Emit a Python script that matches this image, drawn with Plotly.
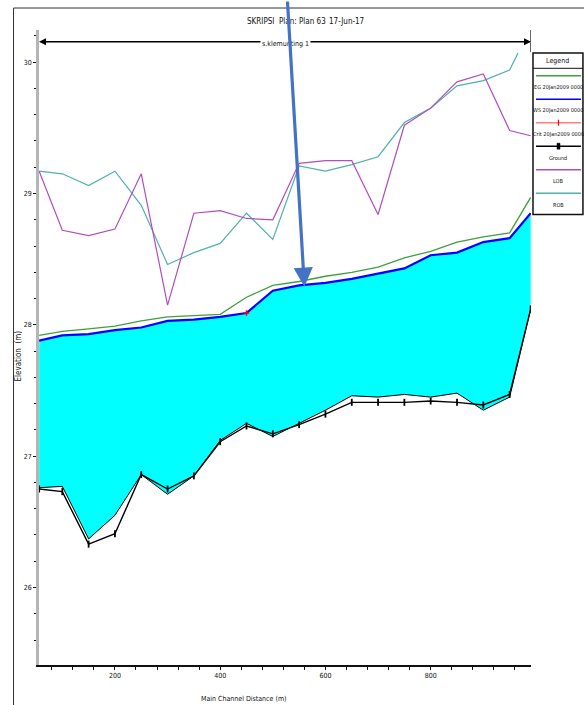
import plotly.graph_objects as go

# Stations along the main channel (m)
dist = [56, 100, 150, 200, 250, 300, 350, 400, 450, 500,
        550, 600, 650, 700, 750, 800, 850, 900, 950, 990]

# Energy grade line, water surface, channel invert (bottom of flow area), ground
eg = [27.92, 27.95, 27.97, 27.99, 28.03, 28.06, 28.07, 28.08, 28.21, 28.30,
      28.33, 28.37, 28.40, 28.44, 28.51, 28.56, 28.63, 28.67, 28.70, 28.97]
ws = [27.88, 27.92, 27.93, 27.96, 27.98, 28.03, 28.04, 28.06, 28.09, 28.26,
      28.30, 28.32, 28.35, 28.39, 28.43, 28.53, 28.55, 28.63, 28.66, 28.85]
invert = [26.76, 26.77, 26.37, 26.55, 26.86, 26.71, 26.85, 27.12, 27.25, 27.15,
          27.25, 27.35, 27.46, 27.45, 27.47, 27.45, 27.48, 27.35, 27.45, 28.12]
ground = [26.75, 26.73, 26.33, 26.41, 26.86, 26.75, 26.85, 27.11, 27.23, 27.17,
          27.24, 27.32, 27.41, 27.41, 27.41, 27.42, 27.41, 27.39, 27.47, 28.12]

# Left and right overbank elevations
lob = [29.17, 28.72, 28.68, 28.73, 29.15, 28.15, 28.85, 28.87, 28.81, 28.80,
       29.23, 29.25, 29.25, 28.84, 29.52, 29.65, 29.85, 29.91, 29.48, 29.44]
rob_dist = [56, 100, 150, 200, 250, 300, 350, 400, 450, 500,
            550, 600, 650, 700, 750, 800, 850, 900, 950, 966]
rob = [29.17, 29.15, 29.06, 29.17, 28.91, 28.46, 28.55, 28.62, 28.85, 28.65,
       29.21, 29.17, 29.22, 29.28, 29.54, 29.65, 29.82, 29.86, 29.94, 30.07]

# Critical depth water surface
crit_dist = [450]
crit = [28.09]

x_ticks = [200, 400, 600, 800]
y_ticks = [26, 27, 28, 29, 30]

profile = "20Jan2009 0000"
legend_items = [
    ("EG " + profile, "#3f9f3f", None),
    ("WS " + profile, "#0000ff", None),
    ("Crit " + profile, "#ff7f7f", "cross"),
    ("Ground", "#000000", "bar"),
    ("LOB", "#b04ec0", None),
    ("ROB", "#4fb0b0", None),
]

# Page geometry
W, H = 584, 705
L, R, T, B = 38.5, 53, 30, 40
X_RANGE = [55.7, 990.6]
Y_RANGE = [25.41, 30.245]
FONT = "DejaVu Sans Condensed, Liberation Sans, sans-serif"


def px(xp):
    return (xp - L) / (W - L - R)


def py(yp):
    return (H - B - yp) / (H - T - B)


def label(text, x, y, size, xanchor="center", **extra):
    return dict(text=text, xref="paper", yref="paper", x=x, y=y,
                showarrow=False, xanchor=xanchor, yanchor="middle",
                font=dict(family=FONT, size=size, color="#111111"), **extra)


fig = go.Figure()

# Flow area: cyan between the channel invert and the water surface
fig.add_trace(go.Scatter(x=dist, y=invert, mode="lines",
                         line=dict(color="black", width=1), hoverinfo="skip"))
fig.add_trace(go.Scatter(x=dist, y=ws, mode="lines", fill="tonexty",
                         fillcolor="#00ffff", line=dict(color="#0000ff", width=2.2)))
fig.add_trace(go.Scatter(x=dist, y=ground, mode="lines+markers",
                         line=dict(color="black", width=1.4),
                         marker=dict(symbol="line-ns", size=5,
                                     line=dict(color="black", width=1.8))))
fig.add_trace(go.Scatter(x=dist, y=eg, mode="lines",
                         line=dict(color="#3f9f3f", width=1.3)))
fig.add_trace(go.Scatter(x=crit_dist, y=crit, mode="markers",
                         marker=dict(symbol="cross-thin", size=4,
                                     line=dict(color="#ff0000", width=1.5))))
fig.add_trace(go.Scatter(x=rob_dist, y=rob, mode="lines",
                         line=dict(color="#4fb0b0", width=1.2)))
fig.add_trace(go.Scatter(x=dist, y=lob, mode="lines",
                         line=dict(color="#b04ec0", width=1.2)))

shapes = []
annotations = []

# Outer frame (top and left edges)
shapes.append(dict(type="line", xref="paper", yref="paper",
                   x0=px(13), x1=px(600), y0=py(8), y1=py(8),
                   line=dict(color="#333333", width=1)))
shapes.append(dict(type="line", xref="paper", yref="paper",
                   x0=px(13), x1=px(13), y0=py(8), y1=py(720),
                   line=dict(color="#333333", width=1)))

# Title
annotations.append(label("SKRIPSI", px(276), py(21.5), 8, xanchor="right"))
annotations.append(label("Plan: Plan 63", px(302), py(21.5), 8))
annotations.append(label("17-Jun-17", px(327), py(21.5), 8, xanchor="left"))

# Reach extent marker with double arrow and reach name
reach_y = py(41.7)
half = (531 - 39) / 2
annotations.append(dict(x=X_RANGE[0], y=reach_y, xref="x", yref="paper", text="",
                        showarrow=True, ax=half, ay=0, arrowhead=2, arrowsize=1,
                        arrowwidth=1.4, arrowcolor="black", standoff=0))
annotations.append(dict(x=X_RANGE[1], y=reach_y, xref="x", yref="paper", text="",
                        showarrow=True, ax=-half, ay=0, arrowhead=2, arrowsize=1,
                        arrowwidth=1.4, arrowcolor="black", standoff=0))
shapes.append(dict(type="line", xref="x", yref="paper",
                   x0=X_RANGE[1], x1=X_RANGE[1], y0=1.0, y1=py(52),
                   line=dict(color="black", width=1.2)))
annotations.append(label("s.klemunting 1", px(285), py(43.5), 7,
                         bgcolor="white", borderpad=1))

# Pointer onto the water surface
annotations.append(dict(x=560, y=28.29, xref="x", yref="y", text="",
                        showarrow=True, ax=-17, ay=-288, arrowhead=2,
                        arrowsize=1.2, arrowwidth=3.2, arrowcolor="#4472c4",
                        standoff=0))

# Axis titles
annotations.append(label("Elevation  (m)", px(17), py(356), 8, textangle=-90))
annotations.append(label("Main Channel Distance (m)", px(243), py(699), 7))

# Legend box
lx0, lx1 = 533, 583
shapes.append(dict(type="rect", xref="paper", yref="paper",
                   x0=px(lx0), x1=px(lx1), y0=py(53), y1=py(214.5),
                   line=dict(color="#111111", width=1.5), fillcolor="white"))
shapes.append(dict(type="line", xref="paper", yref="paper",
                   x0=px(lx0), x1=px(lx1), y0=py(68.3), y1=py(68.3),
                   line=dict(color="#111111", width=1)))
annotations.append(label("Legend", px(558), py(61.5), 7))
row_y = 75.7
for name, color, mark in legend_items:
    shapes.append(dict(type="line", xref="paper", yref="paper",
                       x0=px(536), x1=px(581), y0=py(row_y), y1=py(row_y),
                       line=dict(color=color, width=1.5)))
    if mark == "cross":
        shapes.append(dict(type="line", xref="paper", yref="paper",
                           x0=px(558.5), x1=px(558.5), y0=py(row_y - 3), y1=py(row_y + 3),
                           line=dict(color="#ff0000", width=1.2)))
    elif mark == "bar":
        shapes.append(dict(type="rect", xref="paper", yref="paper",
                           x0=px(557), x1=px(560), y0=py(row_y - 3), y1=py(row_y + 3),
                           line=dict(color="black", width=0.5), fillcolor="black"))
    annotations.append(label(name, px(558.5), py(row_y + 11.5), 5.5))
    row_y += 23.5

fig.update_layout(
    width=W, height=H,
    margin=dict(l=L, r=R, t=T, b=B, pad=0),
    paper_bgcolor="white", plot_bgcolor="white",
    showlegend=False,
    shapes=shapes, annotations=annotations,
    xaxis=dict(range=X_RANGE, showgrid=False, zeroline=False,
               showline=True, linecolor="#111111", linewidth=1.5,
               ticks="outside", ticklen=3, tickwidth=1, tickcolor="#111111",
               tickvals=x_ticks, ticktext=[str(v) for v in x_ticks],
               minor=dict(dtick=40, tick0=0, ticks="outside", ticklen=3,
                          tickwidth=1, tickcolor="#111111", showgrid=False),
               tickfont=dict(family=FONT, size=7, color="#111111")),
    yaxis=dict(range=Y_RANGE, showgrid=False, zeroline=False,
               showline=True, linecolor="#b5b5b5", linewidth=2.5,
               ticks="outside", ticklen=3, tickwidth=1, tickcolor="#111111",
               tickvals=y_ticks, ticktext=[str(v) for v in y_ticks],
               minor=dict(dtick=0.2, tick0=0, ticks="outside", ticklen=2,
                          tickwidth=1, tickcolor="#111111", showgrid=False),
               tickfont=dict(family=FONT, size=7, color="#111111")),
)

fig.write_html("out.html")
